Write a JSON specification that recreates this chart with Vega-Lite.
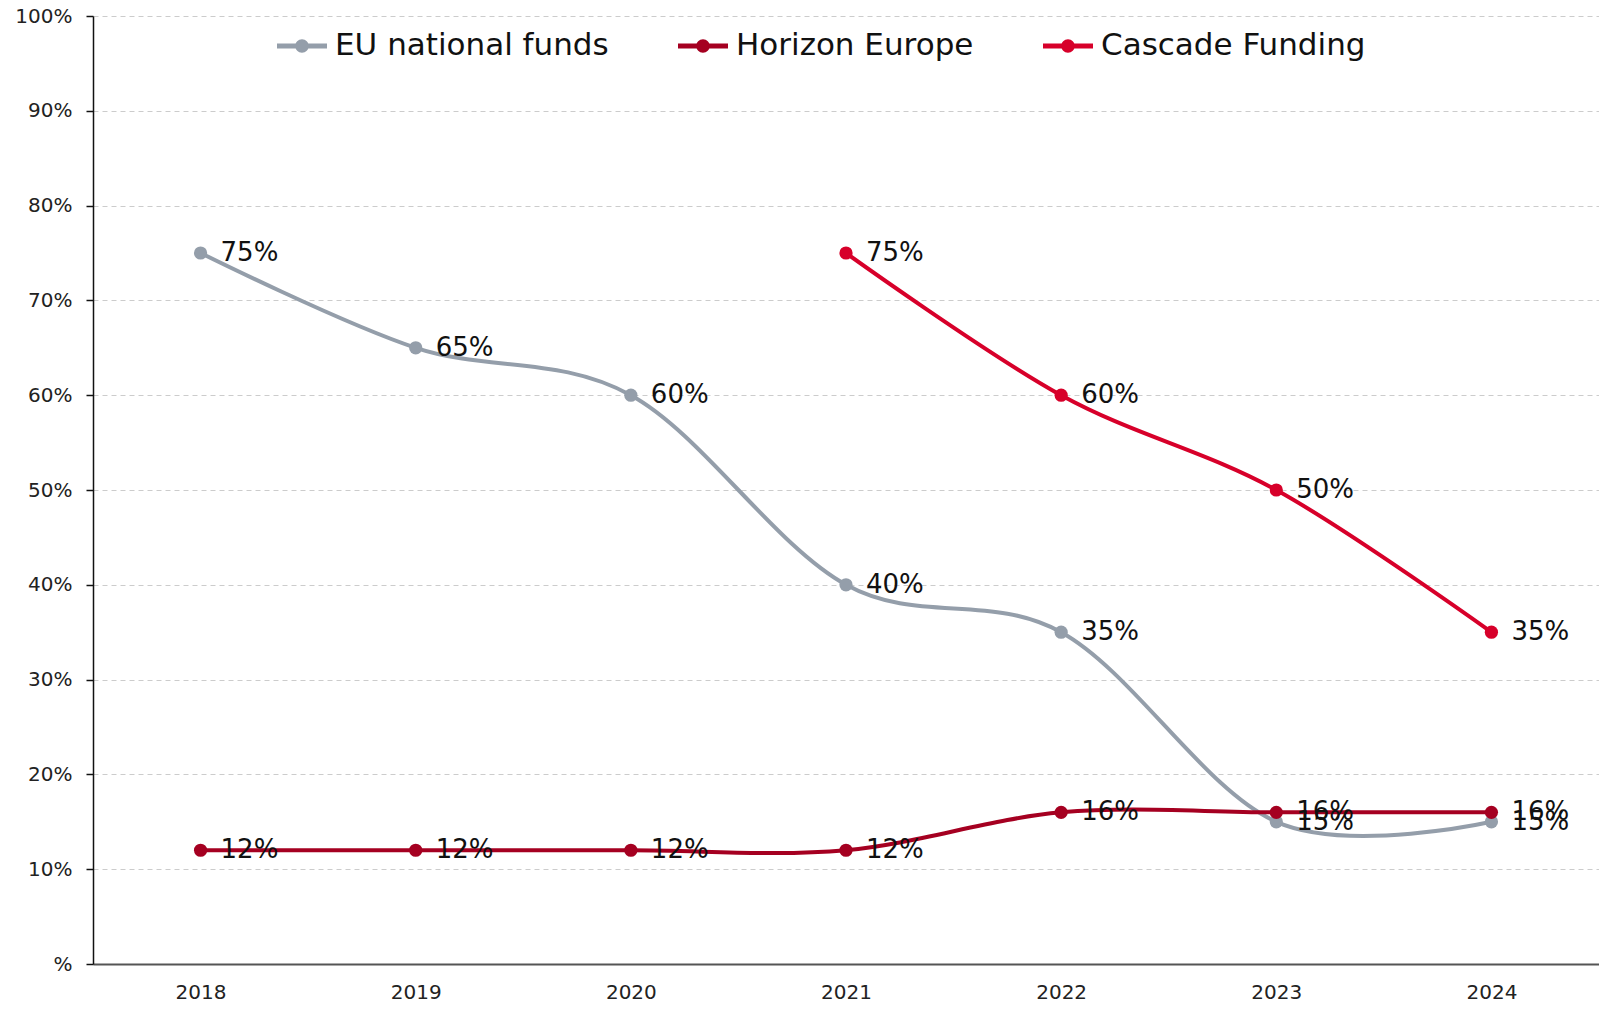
{
  "$schema": "https://vega.github.io/schema/vega-lite/v6.json",
  "width": 1506,
  "height": 948,
  "autosize": {"type": "none"},
  "padding": {"left": 93, "top": 16, "right": 0, "bottom": 46},
  "background": "white",
  "config": {
    "font": "DejaVu Sans",
    "view": {"stroke": null}
  },
  "data": {
    "values": [
      {"year": "2018", "series": "EU national funds", "value": 75},
      {"year": "2019", "series": "EU national funds", "value": 65},
      {"year": "2020", "series": "EU national funds", "value": 60},
      {"year": "2021", "series": "EU national funds", "value": 40},
      {"year": "2022", "series": "EU national funds", "value": 35},
      {"year": "2023", "series": "EU national funds", "value": 15},
      {"year": "2024", "series": "EU national funds", "value": 15},
      {"year": "2018", "series": "Horizon Europe", "value": 12},
      {"year": "2019", "series": "Horizon Europe", "value": 12},
      {"year": "2020", "series": "Horizon Europe", "value": 12},
      {"year": "2021", "series": "Horizon Europe", "value": 12},
      {"year": "2022", "series": "Horizon Europe", "value": 16},
      {"year": "2023", "series": "Horizon Europe", "value": 16},
      {"year": "2024", "series": "Horizon Europe", "value": 16},
      {"year": "2021", "series": "Cascade Funding", "value": 75},
      {"year": "2022", "series": "Cascade Funding", "value": 60},
      {"year": "2023", "series": "Cascade Funding", "value": 50},
      {"year": "2024", "series": "Cascade Funding", "value": 35}
    ]
  },
  "encoding": {
    "x": {
      "field": "year", "type": "ordinal",
      "scale": {"type": "point", "padding": 0.5},
      "axis": {
        "title": null, "labelAngle": 0, "ticks": false, "grid": false,
        "domainColor": "#555555", "domainWidth": 2,
        "labelFontSize": 20, "labelColor": "#222222", "labelPadding": 18
      }
    },
    "y": {
      "field": "value", "type": "quantitative",
      "scale": {"domain": [0, 100], "nice": false},
      "axis": {
        "title": null, "values": [0,10,20,30,40,50,60,70,80,90,100],
        "labelExpr": "(datum.value == 0 ? '' : datum.value) + '%'",
        "grid": true, "gridDash": [5, 4], "gridColor": "#cccccc", "gridWidth": 1,
        "domainColor": "#111111", "domainWidth": 1.5,
        "tickColor": "#111111", "tickSize": 7, "tickWidth": 1.5,
        "labelFontSize": 20, "labelColor": "#222222", "labelPadding": 14
      }
    },
    "color": {
      "field": "series", "type": "nominal",
      "scale": {
        "domain": ["EU national funds", "Horizon Europe", "Cascade Funding"],
        "range": ["#949eaa", "#a50021", "#d7002a"]
      },
      "legend": {
        "orient": "none", "direction": "horizontal", "title": null,
        "legendX": 184, "legendY": 5,
        "symbolType": "M -1 -0.1 L 1 -0.1 L 1 0.1 L -1 0.1 Z M 0.27 0 A 0.27 0.27 0 1 1 -0.27 0 A 0.27 0.27 0 1 1 0.27 0 Z",
        "symbolSize": 2500, "symbolStrokeWidth": 0,
        "labelFontSize": 31, "labelColor": "#111111",
        "labelOffset": 8, "columnPadding": 69, "labelLimit": 500,
        "encode": {
          "symbols": {"update": {"fill": {"scale": "color", "field": "value"}, "stroke": {"value": "transparent"}, "opacity": {"value": 1}}}
        }
      }
    }
  },
  "layer": [
    {
      "mark": {"type": "line", "interpolate": "cardinal", "tension": 0, "strokeWidth": 4},
      "encoding": {"detail": {"field": "series"}}
    },
    {
      "mark": {"type": "point", "filled": true, "size": 175, "opacity": 1},
      "encoding": {}
    },
    {
      "transform": [{"calculate": "datum.value + '%'", "as": "label"}],
      "mark": {"type": "text", "align": "left", "baseline": "middle", "dx": 20, "fontSize": 26, "color": "#111111"},
      "encoding": {
        "text": {"field": "label", "type": "nominal"},
        "color": {"value": "#111111"}
      }
    }
  ]
}
